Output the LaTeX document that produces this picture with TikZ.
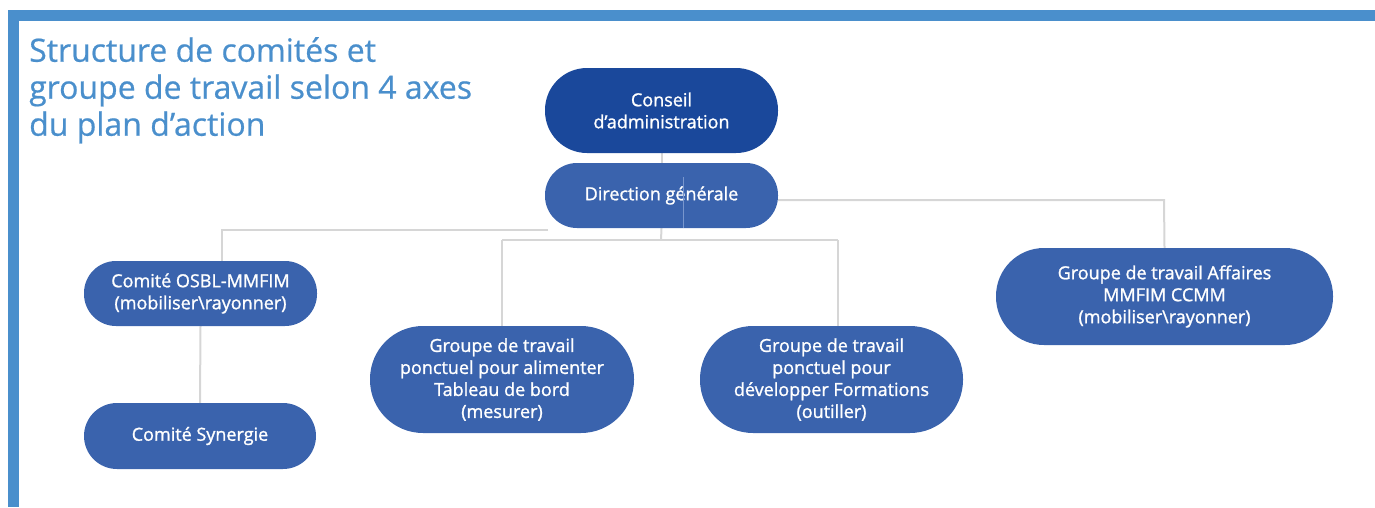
\documentclass[tikz,border=0pt]{standalone}
\usepackage{fontspec}
\setmainfont{Open Sans}
\newfontfamily\titlefont[FakeBold=0.6]{Open Sans}
\newfontfamily\boxfont[FakeBold=1.2]{Open Sans}
\usetikzlibrary{backgrounds}
\definecolor{framebl}{RGB}{74,143,204}
\definecolor{darkbox}{RGB}{26,72,155}
\definecolor{midbox}{RGB}{58,99,173}
\definecolor{linkgrey}{RGB}{214,214,214}
\definecolor{innerline}{RGB}{120,150,205}
\tikzset{
  orgbox/.style={fill=midbox, draw=none, text=white, align=center,
    font=\boxfont\fontsize{18}{22}\selectfont, inner sep=0pt},
  link/.style={draw=linkgrey, line width=2pt}
}
\begin{document}
\begin{tikzpicture}[x=1pt,y=-1pt]
\useasboundingbox (0,0) rectangle (1375,507);
% frame
\fill[framebl] (8,10) rectangle (1375,21);
\fill[framebl] (8,10) rectangle (19,507);
% title
\node[anchor=north west, inner sep=0pt, align=left, text=framebl,
  font=\titlefont\fontsize{32}{37}\selectfont] (title) at (29,37)
  {Structure de comités et\\groupe de travail selon 4 axes\\du plan d’action};
% nodes
\node[orgbox, fill=darkbox, minimum width=233pt, minimum height=85pt, rounded corners=42pt] (conseil) at (661.5,110.5) {Conseil\\d’administration};
\node[orgbox, minimum width=233pt, minimum height=65pt, rounded corners=32pt] (direction) at (661.5,195.5) {Direction générale};
\node[orgbox, minimum width=233pt, minimum height=65pt, rounded corners=32pt] (osbl) at (200.5,293.5) {Comité OSBL-MMFIM\\(mobiliser\textbackslash rayonner)};
\node[orgbox, minimum width=232pt, minimum height=66pt, rounded corners=33pt] (synergie) at (200,436) {Comité Synergie};
\node[orgbox, minimum width=264pt, minimum height=107pt, rounded corners=53pt] (tableau) at (502,379.5) {Groupe de travail\\ponctuel pour alimenter\\Tableau de bord\\(mesurer)};
\node[orgbox, minimum width=263pt, minimum height=107pt, rounded corners=53pt] (formations) at (831.5,379.5) {Groupe de travail\\ponctuel pour\\développer Formations\\(outiller)};
\node[orgbox, minimum width=337pt, minimum height=97pt, rounded corners=48pt] (affaires) at (1164.5,296.5) {Groupe de travail Affaires\\MMFIM CCMM\\(mobiliser\textbackslash rayonner)};
% junction points
\coordinate (jmid) at (661,240);
\coordinate (jtab) at (502,240);
\coordinate (jfor) at (838,240);
\coordinate (jleftA) at (548,230);
\coordinate (jleftB) at (222,230);
\coordinate (jright) at (1164,200);
\begin{scope}[on background layer]
\draw[link] (conseil.south) -- (direction.north);
\draw[link] (direction.south) -- (jmid);
\draw[link] (jtab) -- (jfor);
\draw[link] (jtab) -- (jtab |- tableau.north);
\draw[link] (jfor) -- (jfor |- formations.north);
\draw[link] (jleftA) -- (jleftB) -- (jleftB |- osbl.north);
\draw[link] (direction.east |- jright) -- (jright) -- (affaires.north);
\draw[link] (osbl.south) -- (synergie.north);
\end{scope}
\draw[innerline, line width=1pt] (683,177) -- (683,228);
\end{tikzpicture}
\end{document}
